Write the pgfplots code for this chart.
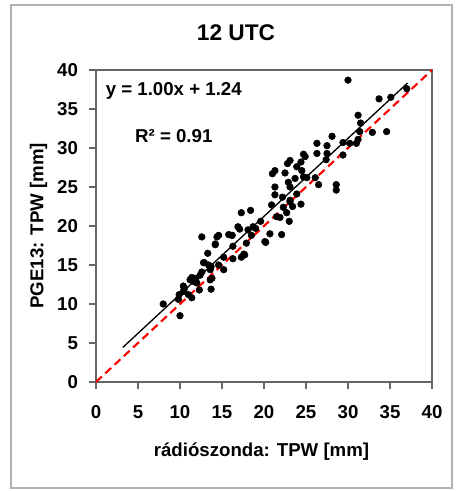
\documentclass[border=0pt]{standalone}
\usepackage{fontspec}
\setmainfont{Liberation Sans}
\usepackage{pgfplots}
\pgfplotsset{compat=1.18}
\begin{document}
\begin{tikzpicture}
\useasboundingbox (0pt,0pt) rectangle (341.25pt,368.25pt);
\draw[gray!60, line width=0.8pt] (8.25pt,2.25pt) rectangle (339pt,364.5pt);
\node[font=\fontsize{17}{20}\selectfont\bfseries] at (177pt,343.5pt) {12 UTC};
\node[font=\fontsize{14}{16}\selectfont\bfseries, rotate=90] at (29pt,199pt) {PGE13: TPW [mm]};
\node[font=\fontsize{14}{16}\selectfont\bfseries] at (196.1pt,29.5pt) {rádiószonda: TPW [mm]};
\begin{axis}[
  at={(72pt,81.75pt)}, anchor=south west,
  scale only axis, width=252pt, height=234pt,
  xmin=0, xmax=40, ymin=0, ymax=40,
  xtick={0,5,...,40}, ytick={0,5,...,40},
  tick align=outside, major tick length=5pt,
  axis line style={gray!80!black, line width=0.8pt},
  every tick/.style={gray!80!black, line width=0.8pt},
  xtick pos=bottom, ytick pos=left,
  /pgf/number format/assume math mode=true,
  ticklabel style={font=\fontsize{14}{16}\selectfont\bfseries},
  xticklabel style={yshift=-9pt},
  yticklabel style={xshift=-5pt},
  clip=false,
]
\addplot[red, line width=1.6pt, dash pattern=on 6pt off 3.5pt] coordinates {(0,0) (40,40)};
\addplot[only marks, mark=*, mark size=2.5pt, black] coordinates {
(8.0,10.0) (10.0,8.5) (9.8,10.6) (9.9,11.2) (10.4,12.3) (10.5,11.9) (10.4,11.6)
(11.0,11.2) (11.4,10.8) (11.2,13.1) (11.4,13.4) (11.9,13.3) (11.6,12.9) (12.0,12.7)
(12.3,11.8) (12.6,14.1) (12.4,13.7) (12.8,15.3) (13.3,16.5) (12.6,18.6) (13.7,14.8)
(13.4,15.0) (13.6,13.1) (13.8,13.3) (13.7,11.9) (14.2,17.6) (14.4,18.6) (14.6,18.8)
(14.6,15.0) (15.2,16.0) (15.2,14.4) (15.8,18.9) (16.2,18.8) (16.3,17.4) (16.3,15.8)
(16.9,19.9) (17.1,19.6) (17.3,16.0) (17.6,16.4) (17.3,21.7) (18.4,22.0) (18.1,19.5)
(18.5,18.8) (18.7,19.9) (19.0,19.7) (19.6,20.6) (17.9,17.8) (20.2,17.9) (20.7,19.0)
(20.9,22.7) (21.5,21.2) (21.9,21.1) (22.1,18.9) (22.3,22.4) (22.7,21.7) (23.0,20.6)
(23.1,23.1) (23.4,22.5) (24.4,22.8) (21.3,27.1) (21.0,26.7) (22.5,26.8) (22.8,28.0)
(23.1,28.4) (24.4,28.2) (23.9,27.6) (24.7,29.2) (24.9,28.9) (24.7,26.3) (25.1,26.2)
(26.1,26.2) (26.5,25.3) (28.6,25.3) (28.6,24.6) (21.3,25.0) (22.9,25.6) (23.1,25.0)
(23.7,26.1) (21.3,24.0) (22.2,23.7) (23.9,24.1) (23.1,23.3) (24.5,27.1)
(26.3,30.6) (27.5,30.3) (26.3,29.3) (27.5,29.3) (27.4,28.5) (29.4,29.1) (28.1,31.5)
(29.4,30.7) (30.2,30.6) (31.0,30.6) (31.2,31.1) (31.4,32.1) (32.9,32.0) (34.6,32.1)
(31.5,33.2) (31.2,34.2) (33.7,36.3) (35.1,36.5) (37.0,37.6) (30.0,38.7)
(16.2,18.8) (20.1,18.0) (14.2,17.7) (12.9,15.3) (13.6,14.4) (17.7,16.3)
};
\addplot[black, line width=1pt] coordinates {(3.2,4.44) (37.1,38.34)};
\node[anchor=west, font=\fontsize{14}{16}\selectfont\bfseries] at (axis cs:0.6,37.3) {y = 1.00x + 1.24};
\node[anchor=west, font=\fontsize{14}{16}\selectfont\bfseries] at (axis cs:4.1,31.5) {R² = 0.91};
\end{axis}
\end{tikzpicture}
\end{document}
